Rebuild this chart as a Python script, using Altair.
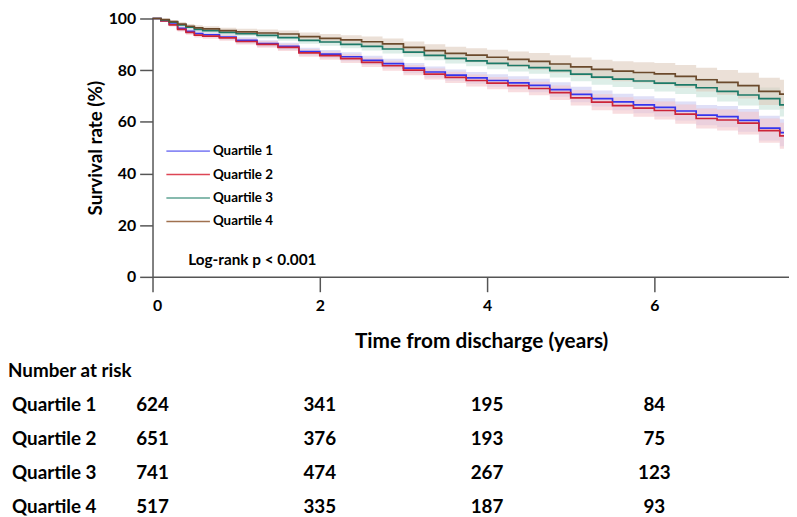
import altair as alt
import pandas as pd

# ---------------- data ----------------
QUARTILES = ["Quartile 1", "Quartile 2", "Quartile 3", "Quartile 4"]

TIME = [0, 0.1, 0.2, 0.3, 0.4, 0.5, 0.6, 0.8, 1.0, 1.25, 1.5, 1.75, 2.0, 2.25, 2.5,
        2.75, 3.0, 3.25, 3.5, 3.75, 4.0, 4.25, 4.5, 4.75, 5.0, 5.25, 5.5, 5.75, 6.0,
        6.25, 6.5, 6.75, 7.0, 7.25, 7.5, 7.55]

SURV_Q1 = [100, 99.2, 97.8, 96.2, 95.0, 94.2, 93.7, 92.8, 91.5, 90.3, 89.2, 87.2, 86.2,
           85.2, 83.8, 82.5, 80.8, 79.3, 78.1, 77.0, 76.0, 75.1, 74.1, 72.5, 70.6, 69.0,
           67.7, 66.6, 65.6, 64.2, 62.6, 62.0, 60.6, 57.6, 55.8, 55.8]
SURV_Q2 = [100, 99.1, 97.5, 95.8, 94.6, 93.6, 93.2, 92.5, 91.1, 90.0, 88.8, 86.7, 85.6,
           84.5, 83.0, 81.7, 80.0, 78.5, 77.2, 76.0, 75.0, 74.0, 72.9, 71.3, 69.3, 67.6,
           66.3, 65.3, 64.4, 63.0, 61.3, 60.7, 59.5, 56.6, 54.6, 54.6]
SURV_Q3 = [100, 99.5, 98.6, 97.5, 96.6, 95.8, 95.3, 94.6, 94.1, 93.5, 92.6, 91.5, 90.9,
           90.0, 89.2, 88.2, 87.0, 85.7, 84.6, 83.6, 82.6, 81.8, 81.0, 79.8, 78.5, 77.3,
           76.5, 75.8, 75.0, 74.3, 73.2, 71.8, 70.4, 69.0, 66.6, 66.6]
SURV_Q4 = [100, 99.6, 98.8, 97.8, 97.0, 96.4, 96.0, 95.3, 94.8, 94.4, 94.0, 93.0, 92.3,
           91.7, 91.0, 90.2, 88.8, 87.6, 86.5, 85.8, 85.0, 84.2, 83.4, 82.4, 81.3, 80.3,
           79.6, 79.1, 78.6, 77.6, 76.3, 75.3, 74.0, 71.8, 70.7, 70.7]

# half-width of the shaded confidence band
CI_Q1 = [0, 0.4, 0.6, 0.8, 0.9, 1.0, 1.0, 1.1, 1.2, 1.3, 1.4, 1.5, 1.6, 1.7, 1.8, 1.9, 2.0,
         2.1, 2.2, 2.3, 2.4, 2.5, 2.6, 2.8, 3.0, 3.1, 3.2, 3.3, 3.5, 3.7, 3.9, 4.1, 4.4,
         4.8, 5.2, 5.2]
CI_Q2 = [0, 0.4, 0.6, 0.8, 0.9, 1.0, 1.0, 1.1, 1.2, 1.3, 1.4, 1.5, 1.6, 1.7, 1.8, 1.9, 2.0,
         2.1, 2.2, 2.3, 2.4, 2.5, 2.6, 2.8, 3.0, 3.1, 3.2, 3.3, 3.5, 3.7, 3.9, 4.1, 4.4,
         4.7, 5.0, 5.0]
CI_Q3 = [0, 0.3, 0.5, 0.6, 0.7, 0.8, 0.8, 0.9, 1.0, 1.1, 1.2, 1.3, 1.4, 1.5, 1.6, 1.7, 1.8,
         1.9, 2.0, 2.1, 2.2, 2.3, 2.4, 2.6, 2.8, 2.9, 3.0, 3.1, 3.3, 3.5, 3.7, 3.9, 4.1,
         4.3, 4.5, 4.5]
CI_Q4 = [0, 0.4, 0.6, 0.8, 0.9, 1.0, 1.0, 1.1, 1.2, 1.3, 1.4, 1.6, 1.7, 1.8, 2.0, 2.1, 2.3,
         2.4, 2.6, 2.7, 2.9, 3.0, 3.2, 3.4, 3.6, 3.7, 3.9, 4.0, 4.2, 4.4, 4.6, 4.8, 5.0,
         5.3, 5.6, 5.6]

RISK_TIMES = [0, 2, 4, 6]
RISK_Q1 = [624, 341, 195, 84]
RISK_Q2 = [651, 376, 193, 75]
RISK_Q3 = [741, 474, 267, 123]
RISK_Q4 = [517, 335, 187, 93]

LOGRANK = "Log-rank p < 0.001"
X_TITLE = "Time from discharge (years)"
Y_TITLE = "Survival rate (%)"
TABLE_TITLE = "Number at risk"

LINE_COLORS = ["#3535ee", "#cc2438", "#1c7a68", "#6b4a2c"]
LEGEND_COLORS = ["#8a8af5", "#dd4655", "#5fa393", "#a0714f"]
BAND_COLORS = ["#c9c9f2", "#f4c6cb", "#c6e2d9", "#ddccbc"]
FONT = "Lato"

# ---------------- tables ----------------
rows = []
for q, s, c in zip(QUARTILES, [SURV_Q1, SURV_Q2, SURV_Q3, SURV_Q4],
                   [CI_Q1, CI_Q2, CI_Q3, CI_Q4]):
    for t, v, h in zip(TIME, s, c):
        rows.append({"quartile": q, "time": t, "surv": v,
                     "lo": v - h, "hi": min(100.0, v + h)})
km = pd.DataFrame(rows)

risk_rows = []
for q, ns in zip(QUARTILES, [RISK_Q1, RISK_Q2, RISK_Q3, RISK_Q4]):
    for t, n in zip(RISK_TIMES, ns):
        risk_rows.append({"quartile": q, "time": t, "n": str(n)})
risk = pd.DataFrame(risk_rows)
quart_df = pd.DataFrame({"quartile": QUARTILES})

# ---------------- encodings ----------------
x_enc = alt.X("time:Q",
              scale=alt.Scale(domain=[0, 7.61], nice=False, zero=False),
              axis=alt.Axis(values=[0, 2, 4, 6], title=X_TITLE, tickSize=15,
                            labelPadding=6, labelFontSize=16, titleFontSize=21,
                            titlePadding=17, titleX=332, labelAngle=0))
y_scale = alt.Scale(domain=[0, 100], nice=False)
y_axis = alt.Axis(values=[0, 20, 40, 60, 80, 100], title=Y_TITLE, tickSize=13,
                  labelPadding=4, labelFontSize=16, titleFontSize=19, titlePadding=3)

bands = alt.Chart(km).mark_area(interpolate="step-after", opacity=0.6).encode(
    x=x_enc,
    y=alt.Y("lo:Q", scale=y_scale, axis=y_axis),
    y2="hi:Q",
    fill=alt.Fill("quartile:N", scale=alt.Scale(domain=QUARTILES, range=BAND_COLORS),
                  legend=None),
    detail="quartile:N",
)

lines = alt.Chart(km).mark_line(interpolate="step-after", strokeWidth=1.7).encode(
    x=x_enc,
    y=alt.Y("surv:Q", scale=y_scale, axis=y_axis),
    color=alt.Color("quartile:N",
                    scale=alt.Scale(domain=QUARTILES, range=LINE_COLORS),
                    legend=None),
)

logrank = alt.Chart(pd.DataFrame({"t": [LOGRANK]})).mark_text(
    align="left", baseline="middle", font=FONT, fontWeight="bold", fontSize=15.5,
    color="black").encode(text="t:N", x=alt.value(36), y=alt.value(244))

main = alt.layer(bands, lines, logrank)

# ---- hand-made legend (rows on their own point scale) ----
leg_y = alt.Y("quartile:N",
              scale=alt.Scale(type="point", domain=QUARTILES, range=[134, 205],
                              padding=0),
              axis=None)
leg_lines = alt.Chart(quart_df).mark_rule(strokeWidth=1.6).encode(
    x=alt.value(14), x2=alt.value(58), y=leg_y,
    stroke=alt.Stroke("quartile:N",
                      scale=alt.Scale(domain=QUARTILES, range=LEGEND_COLORS),
                      legend=None),
)
leg_text = alt.Chart(quart_df).mark_text(
    align="left", baseline="middle", font=FONT, fontWeight="bold", fontSize=13.5,
    color="black").encode(x=alt.value(61), y=leg_y, text="quartile:N")
legend_layer = alt.layer(leg_lines, leg_text)

# ---- number-at-risk table ----
row_y = alt.Y("quartile:N",
              scale=alt.Scale(type="point", domain=QUARTILES, range=[391, 494],
                              padding=0),
              axis=None)

nums = alt.Chart(risk).mark_text(
    align="center", baseline="middle", font=FONT, fontWeight="bold", fontSize=19,
    color="black").encode(x=x_enc, y=row_y, text="n:N")

labels = alt.Chart(quart_df).mark_text(
    align="left", baseline="middle", font=FONT, fontWeight="bold", fontSize=19,
    color="black").encode(x=alt.value(-142), y=row_y, text="quartile:N")

header = alt.Chart(pd.DataFrame({"t": [TABLE_TITLE]})).mark_text(
    align="left", baseline="middle", font=FONT, fontWeight="bold", fontSize=19,
    color="black").encode(text="t:N", x=alt.value(-146), y=alt.value(356))

table = alt.layer(nums, labels, header)

chart = alt.layer(main, legend_layer, table).resolve_scale(y="independent").properties(
    width=643, height=261,
    autosize=alt.AutoSizeParams(type="none"),
    padding={"left": 146, "top": 8, "right": 0, "bottom": 240},
).configure_axis(
    domainColor="#555555", domainWidth=1.5, tickColor="#555555", tickWidth=1.5,
    labelFont=FONT, labelFontWeight="bold", labelColor="black",
    titleFont=FONT, titleFontWeight="bold", titleColor="black", grid=False,
).configure_view(stroke=None)

chart.save("out.html", embed_options={"renderer": "svg", "actions": False})
